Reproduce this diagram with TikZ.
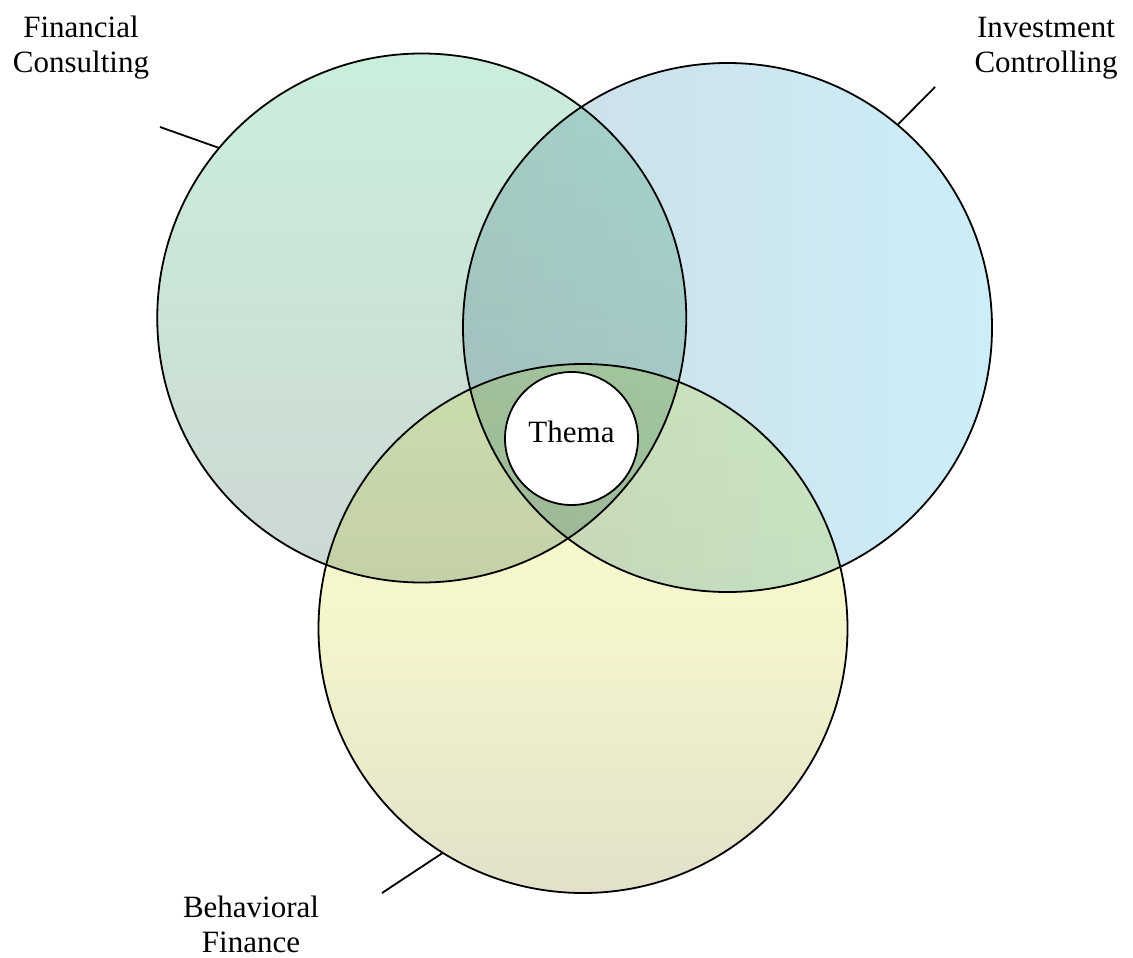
\documentclass[tikz,border=0pt]{standalone}
\usepackage{fontspec}
\setmainfont{Liberation Serif}
\usetikzlibrary{calc}
\definecolor{gtop}{HTML}{CBEEDC}
\definecolor{gbot}{HTML}{CCD8D2}
\definecolor{bleft}{HTML}{CEDDE4}
\definecolor{bright}{HTML}{CCEEF9}
\definecolor{ytop}{HTML}{FCFCCD}
\definecolor{ymid}{HTML}{F5F5CC}
\definecolor{ybot}{HTML}{E2E0CA}
\tikzset{
  setcircle/.style={circle, minimum size=529pt, inner sep=0pt, outer sep=0pt},
  outline/.style={draw=black, line width=1.8pt},
  leader/.style={draw=black, line width=1.8pt},
  lbl/.style={font=\fontsize{31}{35}\selectfont, align=center, anchor=base, inner sep=0pt},
}
\begin{document}
\begin{tikzpicture}[x=1pt,y=-1pt]
\useasboundingbox (0,0) rectangle (1133,958);
\begin{scope}[blend mode=multiply]
\node[setcircle, top color=gtop, bottom color=gbot] (g) at (421.75,318) {};
\node[setcircle, left color=bleft, right color=bright] (b) at (727.5,327.5) {};
\node[setcircle, top color=ytop, bottom color=ybot, middle color=ymid] (y) at (583,628.5) {};
\end{scope}
\draw[outline] (g.center) circle[radius=264.5pt];
\draw[outline] (b.center) circle[radius=264.5pt];
\draw[outline] (y.center) circle[radius=264.5pt];
\node[circle, minimum size=133pt, inner sep=0pt, fill=white, draw=black, line width=1.8pt] (thema) at (571.5,438.5) {};
\node[lbl] (thematext) at (571.5,442) {Thema};
\coordinate (fcend) at (160,127);
\coordinate (icend) at (935,87);
\coordinate (bfend) at (382,893);
\draw[leader] (fcend) -- (g.140.8);
\draw[leader] (icend) -- (b.50.3);
\draw[leader] (bfend) -- (y.238);
\node[lbl] (fc) at (81,73) {Financial\\Consulting};
\node[lbl] (ic) at (1046,73) {Investment\\Controlling};
\node[lbl] (bf) at (251,952) {Behavioral\\Finance};
\end{tikzpicture}
\end{document}
